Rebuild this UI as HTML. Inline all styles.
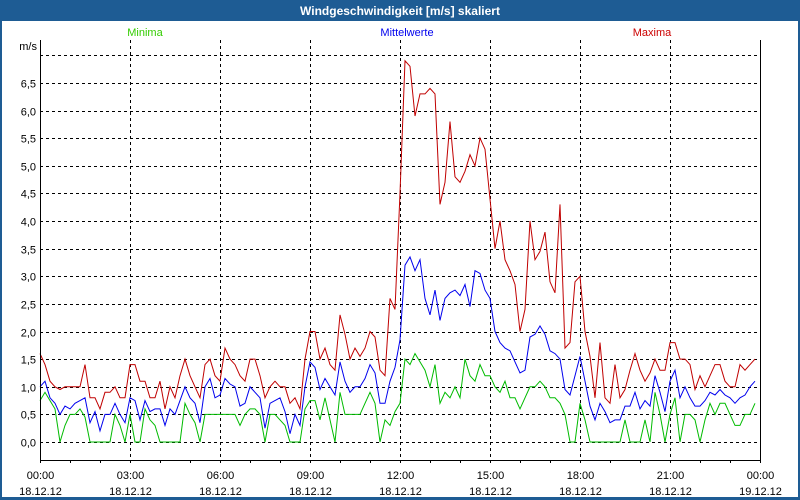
<!DOCTYPE html>
<html><head><meta charset="utf-8"><style>
html,body{margin:0;padding:0;background:#fff;}
svg{display:block;font-family:"Liberation Sans",sans-serif;}
</style></head><body>
<svg id="chart" width="800" height="500">
<rect x="0" y="0" width="800" height="500" fill="#1e5c94"/>
<rect x="2" y="21" width="796" height="476" fill="#ffffff"/>
<text x="400" y="15" text-anchor="middle" fill="#fff" font-size="12" font-weight="bold">Windgeschwindigkeit [m/s] skaliert</text>
<text x="145" y="36" text-anchor="middle" fill="#33cc00" font-size="11">Minima</text>
<text x="407" y="36" text-anchor="middle" fill="#0000ee" font-size="11">Mittelwerte</text>
<text x="652" y="36" text-anchor="middle" fill="#cc0000" font-size="11">Maxima</text>
<text x="37" y="50" text-anchor="end" fill="#000" font-size="11">m/s</text>
<g id="grid"></g><g id="series"></g><g id="axes"></g>
</svg>
<script>
const yTicks=[0,0.5,1,1.5,2,2.5,3,3.5,4,4.5,5,5.5,6,6.5];
const xTickLabels=["00:00","03:00","06:00","09:00","12:00","15:00","18:00","21:00","00:00"];
const xDateLabels=["18.12.12","18.12.12","18.12.12","18.12.12","18.12.12","18.12.12","18.12.12","18.12.12","19.12.12"];
const maxima=[1.6,1.4,1.1,1.0,0.95,1.0,1.0,1.0,1.0,1.4,0.8,0.8,0.6,0.9,0.9,1.0,0.8,0.8,1.4,1.4,1.1,1.1,0.8,0.8,1.1,0.6,1.0,0.8,1.2,1.5,1.2,1.0,0.8,1.4,1.5,1.2,1.1,1.7,1.5,1.4,1.2,1.1,1.5,1.5,1.2,0.8,1.0,1.1,1.0,1.0,0.7,0.8,0.6,1.5,2.0,2.0,
1.5,1.7,1.4,1.3,2.3,1.95,1.5,1.7,1.55,1.7,2.0,1.9,1.3,1.2,2.6,2.4,4.5,6.9,6.8,5.9,6.3,6.3,6.4,6.3,4.3,4.7,5.8,4.8,4.7,4.9,5.2,5.0,5.5,5.3,4.4,3.5,4.0,3.3,3.1,2.85,2.0,2.4,4.0,3.3,3.45,3.8,2.9,2.7,4.3,1.7,1.8,2.9,
3.0,2.0,1.55,0.8,1.8,0.8,0.7,1.4,0.8,0.95,1.3,1.6,1.3,1.1,1.25,1.5,1.3,1.3,1.8,1.8,1.5,1.5,1.4,0.95,1.2,1.0,1.2,1.4,1.4,1.1,1.0,1.0,1.4,1.3,1.4,1.5];
const mittelwerte=[1.0,1.1,0.8,0.7,0.5,0.65,0.6,0.7,0.75,0.8,0.35,0.55,0.2,0.5,0.5,0.7,0.5,0.35,0.8,0.75,0.4,0.75,0.55,0.6,0.6,0.3,0.6,0.5,0.75,1.0,0.8,0.7,0.35,1.0,1.15,0.8,0.85,1.15,1.05,1.0,0.65,0.7,1.0,0.9,0.8,0.25,0.7,0.75,0.8,0.55,0.15,0.5,0.3,1.0,1.45,1.35,
0.95,1.15,1.0,0.85,1.45,1.1,0.9,1.0,1.0,1.15,1.4,1.25,0.7,0.7,1.1,1.35,1.85,3.2,3.35,3.1,3.3,2.6,2.3,2.75,2.2,2.6,2.7,2.75,2.65,2.85,2.45,3.1,3.05,2.75,2.6,2.0,1.8,1.7,1.65,1.45,1.25,1.3,1.9,1.95,2.1,1.95,1.65,1.6,1.5,0.95,0.85,1.2,
1.55,1.1,0.65,0.4,0.7,0.55,0.35,0.4,0.4,0.65,0.65,0.9,0.6,0.75,0.65,1.2,0.9,0.55,1.1,1.3,0.8,1.0,0.8,0.65,0.65,0.75,0.9,0.85,0.95,0.85,0.8,0.7,0.8,0.85,1.0,1.1];
const minima=[0.75,0.9,0.75,0.6,0,0.3,0.5,0.5,0.6,0.45,0,0,0,0,0,0.5,0.3,0,0.5,0,0,0.6,0.4,0.3,0,0,0,0,0,0.7,0.5,0.35,0,0.5,0.5,0.5,0.5,0.5,0.5,0.5,0.3,0.5,0.6,0.6,0.5,0,0.5,0.5,0.4,0.3,0,0,0,0.6,0.75,0.75,
0.4,0.8,0.4,0,0.9,0.5,0.5,0.5,0.5,0.7,0.9,0.7,0,0.4,0.3,0.55,0.7,1.5,1.4,1.6,1.45,1.3,1.0,1.4,0.7,0.9,0.8,1.0,0.8,1.5,1.2,1.1,1.4,1.2,1.2,1.0,0.9,1.1,0.8,0.8,0.6,0.8,1.0,1.0,1.1,1.0,0.8,0.8,0.7,0.5,0,0,
0.7,0.4,0,0,0,0,0,0,0,0.4,0,0,0,0.4,0,0.9,0.5,0,0.5,0.8,0,0.5,0.5,0.4,0,0.4,0.7,0.5,0.7,0.7,0.5,0.3,0.3,0.5,0.5,0.7];

const NS='http://www.w3.org/2000/svg';
const X0=40,X1=760,YTOP=40,YBOT=460;
function xScale(minutes){return X0+(minutes/1440)*(X1-X0);}
function yScale(v){return 442-v*55.25;}
function mk(tag,attrs,parent){const e=document.createElementNS(NS,tag);for(const k in attrs)e.setAttribute(k,attrs[k]);parent.appendChild(e);return e;}
const grid=document.getElementById('grid'),series=document.getElementById('series'),axes=document.getElementById('axes');
// horizontal grid incl. 7.0
[...yTicks,7].forEach((t,i)=>{
  const y=Math.round(yScale(t))+0.5;
  const l=mk('line',{x1:X0,x2:X1,y1:y,y2:y,stroke:'#000','stroke-dasharray':'3,3','stroke-width':1},grid);
  
  
  if(i<yTicks.length){
    const tx=mk('text',{x:36,y:y+4,'text-anchor':'end','font-size':11,fill:'#000'},axes);
    tx.textContent=t.toFixed(1).replace('.',',');
    
    
  }
});
xTickLabels.forEach((lab,i)=>{
  const x=Math.round(xScale(i*180))+0.5;
  if(i>0&&i<8){
    const l=mk('line',{x1:x,x2:x,y1:YTOP,y2:YBOT,stroke:'#000','stroke-dasharray':'3,3'},grid);
    
    
  }
  const t1=mk('text',{x:x,y:479,'text-anchor':'middle','font-size':11,fill:'#000'},axes);
  t1.textContent=lab;
  
  
  const t2=mk('text',{x:x,y:495,'text-anchor':'middle','font-size':11,fill:'#000'},axes);
  t2.textContent=xDateLabels[i];
  
  
});
for(let h=0;h<=24;h++){
  const x=Math.round(xScale(h*60))+0.5;
  const tk=mk('line',{x1:x,x2:x,y1:YBOT,y2:YBOT+3,stroke:'#000'},axes);
  
  
}
const ax=mk('path',{d:`M${X0+0.5},${YTOP}V${YBOT+0.5}H${X1+0.5}V${YTOP}`,fill:'none',stroke:'#000'},axes);


function drawSeries(vals,color,name){
  const d=vals.map((v,i)=>(i?'L':'M')+xScale(i*10).toFixed(1)+','+yScale(v).toFixed(1)).join('');
  const p=mk('path',{d:d,fill:'none',stroke:color,'stroke-width':1},series);
  
  
}
drawSeries(minima,'#00bb00','minima-line');
drawSeries(mittelwerte,'#0000ee','mittelwerte-line');
drawSeries(maxima,'#c00000','maxima-line');
</script>
</body></html>
